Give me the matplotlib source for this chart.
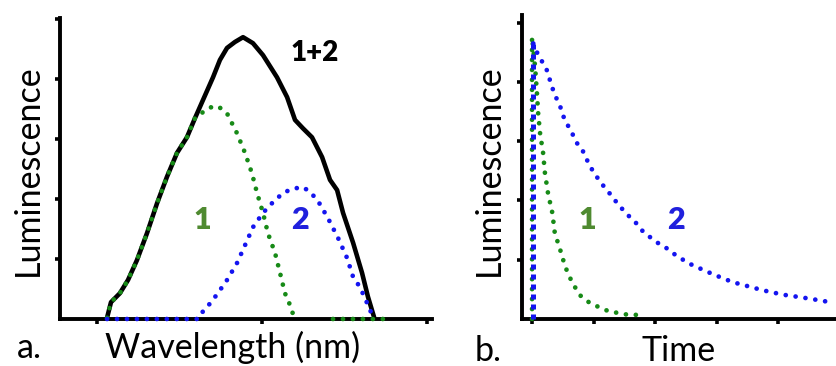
import numpy as np
import matplotlib
matplotlib.use("Agg")
import matplotlib.pyplot as plt

plt.rcParams['font.family'] = ['Lato', 'DejaVu Sans']

# ---------------- data: panel a (spectra) ----------------
wl_sum = [406.1, 408.5, 413.9, 418.8, 424.2, 430.3, 436.4, 442.4, 448.5, 454.5,
          459.4, 464.2, 470.3, 474.5, 478.8, 483.6, 488.5, 494.5, 500.6, 509.1,
          515.2, 520.0, 524.8, 530.3, 536.4, 541.2, 545.5, 549.1, 555.2, 560.6,
          564.2, 567.9]
lum_sum = [0.02, 0.28, 0.43, 0.65, 0.98, 1.43, 1.93, 2.37, 2.77, 3.03,
           3.35, 3.65, 4.03, 4.32, 4.52, 4.62, 4.70, 4.60, 4.40, 4.03,
           3.70, 3.32, 3.18, 3.03, 2.70, 2.32, 2.15, 1.77, 1.27, 0.77,
           0.37, 0.03]

wl_1 = [406.1, 408.5, 413.9, 418.8, 424.2, 430.3, 436.4, 442.4, 448.5, 454.5,
        459.4, 464.2, 469.1, 473.3, 478.8, 484.8, 489.7, 493.9, 497.0, 500.6,
        503.6, 507.9, 510.9, 513.9, 517.0, 518.8, np.nan, 543.0, 576.0]
lum_1 = [0.02, 0.28, 0.43, 0.65, 0.98, 1.43, 1.93, 2.37, 2.77, 3.03,
         3.35, 3.45, 3.53, 3.55, 3.43, 3.10, 2.77, 2.43, 2.10, 1.77,
         1.43, 1.10, 0.77, 0.43, 0.23, 0.08, np.nan, 0.0, 0.0]

wl_2 = [406.1, 461.2, 462.4, 466.7, 470.3, 474.5, 478.8, 484.8, 489.7, 494.5,
        500.6, 506.7, 512.7, 518.2, 524.8, 529.1, 533.9, 540.0, 546.1, 551.5,
        555.2, 559.4, 563.6, 566.7]
lum_2 = [0.0, 0.0, 0.07, 0.20, 0.32, 0.48, 0.65, 0.93, 1.23, 1.53,
         1.77, 1.95, 2.10, 2.17, 2.20, 2.12, 1.97, 1.68, 1.35, 1.02,
         0.70, 0.53, 0.27, 0.07]

# ---------------- data: panel b (decays) ----------------
t_1 = [0.0, 0.0, 0.05, 0.08, 0.10, 0.13, 0.18, 0.21, 0.26, 0.33, 0.37, 0.46,
       0.54, 0.65, 0.78, 0.94, 1.11, 1.27, 1.43, 1.56, 1.72]
dec_1 = [0.0, 4.76, 4.25, 3.81, 3.47, 3.14, 2.80, 2.46, 2.12, 1.79, 1.45, 1.16,
         0.88, 0.62, 0.40, 0.27, 0.19, 0.12, 0.10, 0.07, 0.07]

t_2 = [0.02, 0.02, 0.08, 0.15, 0.24, 0.33, 0.39, 0.46, 0.50, 0.57, 0.65, 0.72,
       0.81, 0.94, 1.02, 1.11, 1.19, 1.30, 1.38, 1.48, 1.59, 1.71, 1.80, 1.92,
       2.05, 2.18, 2.29, 2.41, 2.54, 2.68, 2.81, 2.94, 3.09, 3.22, 3.43, 3.58,
       3.71, 3.87, 4.03, 4.20, 4.36, 4.52, 4.65, 4.81]
dec_2 = [0.0, 4.65, 4.50, 4.37, 4.20, 3.90, 3.74, 3.58, 3.44, 3.29, 3.14, 2.98,
         2.87, 2.58, 2.45, 2.31, 2.21, 2.07, 1.96, 1.84, 1.72, 1.60, 1.48, 1.38,
         1.28, 1.20, 1.11, 1.03, 0.94, 0.88, 0.81, 0.76, 0.69, 0.64, 0.57, 0.54,
         0.49, 0.46, 0.42, 0.39, 0.37, 0.34, 0.32, 0.29]

wl_ticks = [400, 500, 600]
lum_ticks = [1, 2, 3, 4, 5]
t_ticks = [0, 1, 2, 3, 4]

GREEN = "#178a17"
BLUE = "#1414f0"
LGREEN = "#4f8a30"
LBLUE = "#2020dd"

W, H = 836, 366
fig = plt.figure(figsize=(W / 100, H / 100), dpi=100)

def fx(px):
    return px / W

def fy(py):
    return 1 - py / H

dot = (0, (0.01, 2.1))
DLW = 3.4

def style(ax):
    for s in ['top', 'right']:
        ax.spines[s].set_visible(False)
    for s in ['left', 'bottom']:
        ax.spines[s].set_linewidth(2.8)
        ax.spines[s].set_capstyle('projecting')
    ax.tick_params(direction='out', length=3.5, width=2.6, color='black',
                   labelleft=False, labelbottom=False)
    ax.set_facecolor('none')

# ---- panel a ----
axa = fig.add_axes([fx(60), fy(319), fx(432) - fx(60), fy(18) - fy(319)])
style(axa)
axa.set_xlim(377.6, 603)
axa.set_ylim(0, 5.02)
axa.set_xticks(wl_ticks)
axa.set_yticks(lum_ticks)
axa.plot(wl_sum, lum_sum, color='black', lw=3.3, solid_capstyle='round',
         solid_joinstyle='round', zorder=3, clip_on=False)
axa.plot(wl_1, lum_1, color=GREEN, lw=DLW, linestyle=dot, dash_capstyle='round',
         zorder=4, clip_on=False)
axa.plot(wl_2, lum_2, color=BLUE, lw=DLW, linestyle=dot, dash_capstyle='round',
         zorder=5, clip_on=False)

# ---- panel b ----
axb = fig.add_axes([fx(522), fy(319), fx(836) - fx(522), fy(15) - fy(319)])
style(axb)
axb.set_xlim(-0.163, 4.94)
axb.set_ylim(0, 5.13)
axb.set_xticks(t_ticks)
axb.set_yticks(lum_ticks)
axb.plot(t_1, dec_1, color=GREEN, lw=DLW, linestyle=dot, dash_capstyle='round',
         zorder=4, clip_on=False)
axb.plot(t_2[1:], dec_2[1:], color=BLUE, lw=DLW, linestyle=dot,
         dash_capstyle='round', zorder=5, clip_on=False)
axb.plot(t_2[:2], dec_2[:2], color=BLUE, lw=3.6, linestyle=(0, (1, 1)),
         dash_capstyle='butt', zorder=6, clip_on=False)

# ---- texts ----
LFS = 24.5
fig.text(fx(38), fy(170), "Luminescence", rotation=90, fontsize=LFS,
         ha='center', va='baseline', rotation_mode='anchor')
fig.text(fx(499), fy(170), "Luminescence", rotation=90, fontsize=LFS,
         ha='center', va='baseline', rotation_mode='anchor')
fig.text(fx(233), fy(358), "Wavelength (nm)", fontsize=LFS, ha='center',
         va='baseline')
fig.text(fx(679), fy(361), "Time", fontsize=LFS, ha='center', va='baseline')
fig.text(fx(29), fy(358), "a.", fontsize=LFS, ha='center', va='baseline')
fig.text(fx(488), fy(361), "b.", fontsize=LFS, ha='center', va='baseline')

fig.text(fx(315), fy(53), "1+2", fontsize=20, fontweight='heavy',
         color='black', ha='center', va='center')
fig.text(fx(202), fy(220), "1", fontsize=22, fontweight='heavy', color=LGREEN,
         ha='center', va='center')
fig.text(fx(300), fy(220), "2", fontsize=22, fontweight='heavy', color=LBLUE,
         ha='center', va='center')
fig.text(fx(587), fy(220), "1", fontsize=22, fontweight='heavy', color=LGREEN,
         ha='center', va='center')
fig.text(fx(676), fy(220), "2", fontsize=22, fontweight='heavy', color=LBLUE,
         ha='center', va='center')

fig.savefig("out.png", dpi=100)
